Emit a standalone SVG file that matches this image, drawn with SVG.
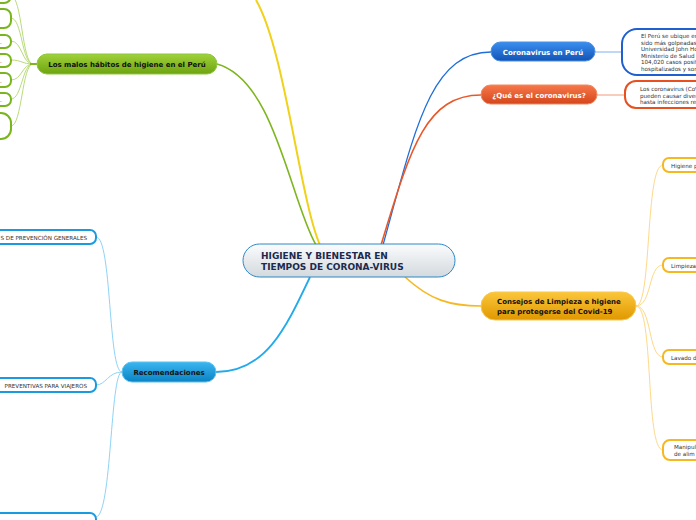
<svg xmlns="http://www.w3.org/2000/svg" width="696" height="520" viewBox="0 0 696 520">
<defs>
<linearGradient id="gC" x1="0" y1="0" x2="0" y2="1"><stop offset="0" stop-color="#fbfcfd"/><stop offset="1" stop-color="#d3d9de"/></linearGradient>
<linearGradient id="gG" x1="0" y1="0" x2="0" y2="1"><stop offset="0" stop-color="#9fd13a"/><stop offset="1" stop-color="#6ea410"/></linearGradient>
<linearGradient id="gB" x1="0" y1="0" x2="0" y2="1"><stop offset="0" stop-color="#3a8ff0"/><stop offset="1" stop-color="#1253b5"/></linearGradient>
<linearGradient id="gR" x1="0" y1="0" x2="0" y2="1"><stop offset="0" stop-color="#f7784a"/><stop offset="1" stop-color="#d4461a"/></linearGradient>
<linearGradient id="gO" x1="0" y1="0" x2="0" y2="1"><stop offset="0" stop-color="#fbc63a"/><stop offset="1" stop-color="#e09800"/></linearGradient>
<linearGradient id="gS" x1="0" y1="0" x2="0" y2="1"><stop offset="0" stop-color="#3cb6f0"/><stop offset="1" stop-color="#0a82c4"/></linearGradient>
</defs>
<style>
.t{font-family:"DejaVu Sans",Verdana,sans-serif;}
.main{font-weight:bold;font-size:7px;}
.small{font-size:5.6px;fill:#333;}
.sub{fill:#fff;stroke-width:2;}
.c{fill:none;}
</style>
<g id="connectors">
<path class="c" d="M 320 245 C 300 200, 285 50, 256 0" stroke="#f0d21a" stroke-width="2"/>
<path class="c" d="M 316 245 C 290 200, 275 80, 217 64" stroke="#7fb61f" stroke-width="1.6"/>
<path class="c" d="M 383 245 C 415 130, 430 52, 491 52" stroke="#1f6fd8" stroke-width="1.3"/>
<path class="c" d="M 381 245 C 410 150, 425 95, 481 95" stroke="#e8582a" stroke-width="1.6"/>
<path class="c" d="M 405 277 C 430 300, 450 306, 481 306" stroke="#f5b820" stroke-width="1.6"/>
<path class="c" d="M 310 277 C 285 330, 265 372, 216 372" stroke="#22aaea" stroke-width="1.8"/>
<path class="c" d="M 595 52 L 622 52" stroke="#7fb0ee" stroke-width="1"/>
<path class="c" d="M 597 95 L 625 95" stroke="#f29a7a" stroke-width="1"/>
<g stroke="#fdd98a" stroke-width="1">
<path class="c" d="M 636 306 C 652 306, 645 165, 663 165"/>
<path class="c" d="M 636 306 C 652 306, 648 265, 663 265"/>
<path class="c" d="M 636 306 C 652 306, 648 357, 663 357"/>
<path class="c" d="M 636 306 C 654 306, 645 450, 663 450"/>
</g>
<g stroke="#8fd3f5" stroke-width="1">
<path class="c" d="M 122 372 C 108 372, 112 237, 96 237"/>
<path class="c" d="M 122 372 C 108 372, 106 385, 96 385"/>
<path class="c" d="M 122 372 C 110 372, 112 515, 96 517"/>
</g>
<g stroke="#b9dc7a" stroke-width="1">
<path class="c" d="M 33 64 C 22 64, 22 -4, 11 -4"/>
<path class="c" d="M 33 64 C 22 64, 22 18, 11 18"/>
<path class="c" d="M 33 64 C 22 64, 22 41, 11 41"/>
<path class="c" d="M 33 64 C 22 64, 22 60, 11 60"/>
<path class="c" d="M 33 64 C 22 64, 22 80, 11 80"/>
<path class="c" d="M 33 64 C 22 64, 22 99, 11 99"/>
<path class="c" d="M 33 64 C 22 64, 22 126, 11 126"/>
</g>
<path class="c" d="M 30 64 L 37 64" stroke="#7fb61f" stroke-width="2"/>
</g>
<g id="central">
<rect x="243" y="244" width="212" height="33" rx="16.5" fill="url(#gC)" stroke="#2a88c8" stroke-width="1"/>
<text class="t" x="261" y="259" font-size="9" font-weight="bold" fill="#1b2a4e">HIGIENE Y BIENESTAR EN</text>
<text class="t" x="261" y="270" font-size="9" font-weight="bold" fill="#1b2a4e">TIEMPOS DE CORONA-VIRUS</text>
</g>
<g id="malos-habitos">
<rect x="37" y="54" width="180" height="20" rx="10" fill="url(#gG)" stroke="#8cc63f" stroke-width="1"/>
<text class="t main" x="127" y="67" text-anchor="middle" fill="#111">Los malos hábitos de higiene en el Perú</text>
</g>
<g id="green-subs" stroke="#7ab51d">
<g id="g1"><rect class="sub" x="-30" y="-20" width="41" height="23" rx="7"/></g>
<g id="g2"><rect class="sub" x="-30" y="9" width="41" height="19" rx="7"/></g>
<g id="g3"><rect class="sub" x="-30" y="35" width="41" height="13" rx="6"/><text class="t small" x="0" y="44" stroke="none">.</text></g>
<g id="g4"><rect class="sub" x="-30" y="54" width="41" height="13" rx="6"/><text class="t small" x="0" y="63" stroke="none">.</text></g>
<g id="g5"><rect class="sub" x="-30" y="73" width="41" height="14" rx="6"/><text class="t small" x="0" y="83" stroke="none">.</text></g>
<g id="g6"><rect class="sub" x="-30" y="93" width="41" height="13" rx="6"/><text class="t small" x="0" y="102" stroke="none">.</text></g>
<g id="g7"><rect class="sub" x="-30" y="113" width="41" height="26" rx="10"/></g>
</g>
<g id="coronavirus-peru">
<rect x="491" y="42" width="104" height="19" rx="9.5" fill="url(#gB)" stroke="#4a90e2" stroke-width="1"/>
<text class="t main" x="543" y="54.5" text-anchor="middle" fill="#fff">Coronavirus en Perú</text>
</g>
<g id="peru-info">
<rect x="622" y="29" width="100" height="46" rx="15" fill="#fff" stroke="#1f5fd0" stroke-width="2"/>
<text class="t small" x="641" y="38">El Perú se ubique en</text>
<text class="t small" x="641" y="44.5">sido más golpeadas</text>
<text class="t small" x="641" y="51">Universidad John Ho</text>
<text class="t small" x="641" y="57.5">Ministerio de Salud</text>
<text class="t small" x="641" y="64">104,020 casos posit</text>
<text class="t small" x="641" y="70.5">hospitalizados y son</text>
</g>
<g id="que-es">
<rect x="481" y="85" width="116" height="19" rx="9.5" fill="url(#gR)" stroke="#f08a60" stroke-width="1"/>
<text class="t main" x="539" y="97.5" text-anchor="middle" fill="#fff">¿Qué es el coronavirus?</text>
</g>
<g id="que-es-info">
<rect x="625" y="81" width="100" height="27" rx="11" fill="#fff" stroke="#e8501f" stroke-width="2"/>
<text class="t small" x="640" y="91">Los coronavirus (CoV</text>
<text class="t small" x="640" y="97.5">pueden causar diver</text>
<text class="t small" x="640" y="104">hasta infecciones res</text>
</g>
<g id="consejos">
<rect x="481" y="292" width="155" height="28" rx="14" fill="url(#gO)" stroke="#f7c84a" stroke-width="1"/>
<text class="t main" x="497" y="304" fill="#111">Consejos de Limpieza e higiene</text>
<text class="t main" x="497" y="314" fill="#111">para protegerse del Covid-19</text>
</g>
<g id="orange-subs" stroke="#f5b820">
<g id="o1"><rect class="sub" x="663" y="158" width="60" height="14" rx="6"/><text class="t small" x="671" y="167.5" stroke="none">Higiene p</text></g>
<g id="o2"><rect class="sub" x="663" y="258" width="60" height="14" rx="6"/><text class="t small" x="671" y="267.5" stroke="none">Limpieza</text></g>
<g id="o3"><rect class="sub" x="663" y="350" width="60" height="14" rx="6"/><text class="t small" x="671" y="359.5" stroke="none">Lavado d</text></g>
<g id="o4"><rect class="sub" x="663" y="440" width="60" height="20" rx="7"/><text class="t small" x="674" y="449" stroke="none">Manipul</text><text class="t small" x="674" y="456" stroke="none">de alim</text></g>
</g>
<g id="recomendaciones">
<rect x="122" y="362" width="94" height="20" rx="10" fill="url(#gS)" stroke="#5cc2f2" stroke-width="1"/>
<text class="t main" x="169" y="375" text-anchor="middle" fill="#111">Recomendaciones</text>
</g>
<g id="blue-subs" stroke="#1a9be0">
<g id="b1"><rect class="sub" x="-30" y="230" width="126" height="14" rx="6"/><text class="t small" x="87" y="239.5" text-anchor="end" stroke="none">S DE PREVENCIÓN GENERALES</text></g>
<g id="b2"><rect class="sub" x="-30" y="378" width="126" height="14" rx="6"/><text class="t small" x="87" y="387.5" text-anchor="end" stroke="none">PREVENTIVAS PARA VIAJEROS</text></g>
<g id="b3"><rect class="sub" x="-30" y="513" width="126" height="14" rx="6"/></g>
</g>
</svg>
